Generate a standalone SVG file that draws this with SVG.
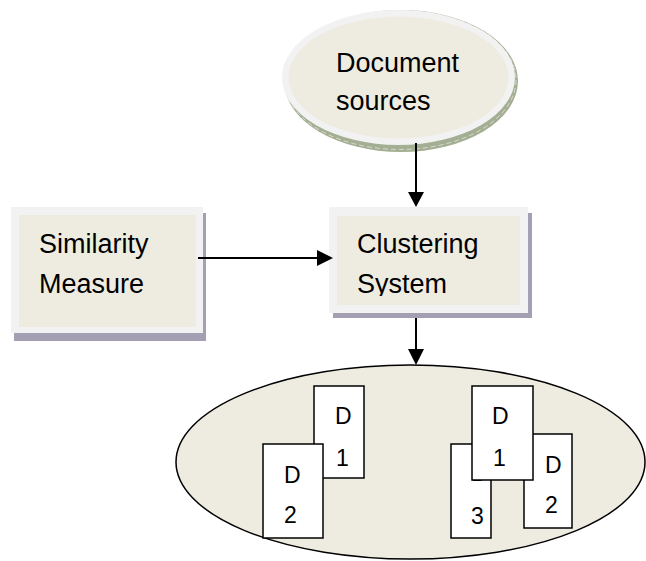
<svg xmlns="http://www.w3.org/2000/svg" width="646" height="561" viewBox="0 0 646 561">
<style>
  .lbl { font-family: "Liberation Sans", Arial, sans-serif; font-size: 27px; fill: #000; }
  .dl { font-family: "Liberation Sans", Arial, sans-serif; font-size: 23px; fill: #000; }
  .outer { fill: #f2f2f2; }
  .inner { fill: #eeece1; }
  .shadow { fill: #a49fb2; }
  .doc { fill: #ffffff; stroke: #000; stroke-width: 1.5; }
  .conn { stroke: #000; stroke-width: 2; fill: none; }
  .head { fill: #000; }
</style>
<defs>
  <clipPath id="clipCluster"><rect x="337" y="216" width="183" height="80"/></clipPath>
</defs>
<rect width="646" height="561" fill="#ffffff"/>

<g id="node-document-sources">
  <ellipse cx="401" cy="81" rx="117" ry="71" fill="#a3ae92"/>
  <ellipse cx="400" cy="80" rx="116" ry="69.5" fill="none" stroke="#ffffff" stroke-width="0.8" stroke-dasharray="5 3" opacity="0.7"/>
  <ellipse cx="398.5" cy="77.5" rx="116.5" ry="67.5" class="outer"/>
  <ellipse cx="398.5" cy="77.5" rx="110" ry="61" class="inner"/>
  <text class="lbl" x="336" y="72">Document</text>
  <text class="lbl" x="336" y="110">sources</text>
</g>

<g id="node-similarity">
  <rect x="14" y="213" width="192" height="128" class="shadow"/>
  <rect x="11" y="207" width="192" height="126" class="outer"/>
  <rect x="19" y="215" width="177" height="112" class="inner"/>
  <text class="lbl" x="39" y="253">Similarity</text>
  <text class="lbl" x="39" y="293">Measure</text>
</g>

<g id="node-clustering">
  <rect x="333" y="213" width="199" height="105" class="shadow"/>
  <rect x="329" y="207" width="199" height="106" class="outer"/>
  <rect x="337" y="216" width="183" height="89" class="inner"/>
  <text class="lbl" x="357" y="253">Clustering</text>
  <text class="lbl" x="357" y="293" clip-path="url(#clipCluster)">System</text>
</g>

<g id="node-clusters">
  <ellipse cx="410.5" cy="462" rx="234.5" ry="97" fill="#eeece1" stroke="#000" stroke-width="1.5"/>
</g>

<g id="node-left-d1">
  <rect x="314" y="386" width="50" height="92" class="doc"/>
  <text class="dl" x="335" y="424">D</text>
  <text class="dl" x="336" y="466">1</text>
</g>
<g id="node-left-d2">
  <rect x="263" y="444" width="60" height="94" class="doc"/>
  <text class="dl" x="284" y="483">D</text>
  <text class="dl" x="284" y="523">2</text>
</g>
<g id="node-right-d3">
  <rect x="451" y="444" width="40" height="94" class="doc"/>
  <text class="dl" x="471" y="481">D</text>
  <text class="dl" x="471" y="524">3</text>
</g>
<g id="node-right-d2">
  <rect x="524" y="434" width="48" height="94" class="doc"/>
  <text class="dl" x="545" y="473">D</text>
  <text class="dl" x="545" y="513">2</text>
</g>
<g id="node-right-d1">
  <rect x="472" y="386" width="61" height="94" class="doc"/>
  <text class="dl" x="492" y="424">D</text>
  <text class="dl" x="493" y="466">1</text>
</g>

<g id="connectors">
  <line x1="416" y1="143" x2="416" y2="193" class="conn"/>
  <polygon points="408,192 424,192 416,207" class="head"/>
  <line x1="198" y1="258" x2="318" y2="258" class="conn"/>
  <polygon points="317,250 317,266 333,258" class="head"/>
  <line x1="416" y1="318" x2="416" y2="350" class="conn"/>
  <polygon points="408,349 424,349 416,365" class="head"/>
</g>
</svg>
